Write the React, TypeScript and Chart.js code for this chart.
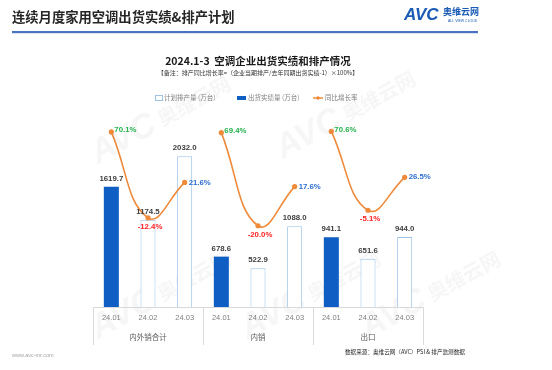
import React, { useEffect, useRef } from 'react';
import { Chart, registerables } from 'chart.js';

Chart.register(...registerables);

const categories = ['24.01', '24.02', '24.03', '24.01', '24.02', '24.03', '24.01', '24.02', '24.03'];
const groupLabels = ['内外销合计', '内销', '出口'];
const actualShipments = [1619.7, null, null, 678.6, null, null, 941.1, null, null];
const plannedProduction = [null, 1174.5, 2032.0, null, 522.9, 1088.0, null, 651.6, 944.0];
const growthTotal = [70.1, -12.4, 21.6, null, null, null, null, null, null];
const growthDomestic = [null, null, null, 69.4, -20.0, 17.6, null, null, null];
const growthExport = [null, null, null, null, null, null, 70.6, -5.1, 26.5];
const legendLabels = ['计划排产量 (万台)', '出货实绩量 (万台)', '同比增长率'];

const CJK = '"Noto Sans CJK SC", "Noto Sans", sans-serif';
const NUM = '"Liberation Sans", Arial, sans-serif';
const BLUE = '#0F5EC4';
const OUTLINE = '#9DC3E6';
const ORANGE = '#EE8A3A';

const decorPlugin = {
  id: 'decor',
  beforeDraw(chart: any) {
    const ctx = chart.ctx;
    const x = chart.scales.x;
    const area = chart.chartArea;
    ctx.save();
    ctx.fillStyle = '#ffffff';
    ctx.fillRect(0, 0, chart.width, chart.height);

    // watermarks
    const marks = [[150, 125], [335, 120], [150, 300], [300, 300], [420, 300]];
    marks.forEach(([mx, my]) => {
      ctx.save();
      ctx.translate(mx, my);
      ctx.rotate(-0.5);
      ctx.globalAlpha = 0.05;
      ctx.fillStyle = '#555';
      ctx.font = 'italic bold 34px ' + NUM;
      ctx.textAlign = 'center';
      ctx.textBaseline = 'middle';
      ctx.fillText('AVC', -30, 0);
      ctx.font = 'bold 20px ' + CJK;
      ctx.fillText('奥维云网', 50, 0);
      ctx.restore();
    });

    // header title
    ctx.fillStyle = '#262626';
    ctx.font = 'bold 13.3px ' + CJK;
    ctx.textBaseline = 'middle';
    ctx.textAlign = 'left';
    ctx.fillText('连续月度家用空调出货实绩&排产计划', 12, 17);

    // header underline
    ctx.fillStyle = '#4A73C2';
    ctx.fillRect(12, 31, 466, 2);
    ctx.fillStyle = 'rgba(74,115,194,0.2)';
    ctx.fillRect(12, 33, 466, 1);

    // logo
    ctx.fillStyle = '#1A5BB5';
    ctx.font = 'italic bold 17px ' + NUM;
    ctx.fillText('AVC', 404, 15);
    ctx.font = 'bold 9px ' + CJK;
    ctx.fillText('奥维云网', 443, 12);
    ctx.font = '3.5px ' + NUM;
    ctx.fillText('ALL VIEW CLOUD', 448, 21);

    // chart title
    ctx.textAlign = 'center';
    ctx.fillStyle = '#1a1a1a';
    ctx.font = 'bold 10.5px ' + CJK;
    ctx.fillText('2024.1-3  空调企业出货实绩和排产情况', 258, 61);
    ctx.font = '6px ' + CJK;
    ctx.fillStyle = '#333';
    ctx.fillText('【备注：排产同比增长率=（企业当期排产/去年同期出货实绩-1）×100%】', 258, 73);

    // legend
    const ly = 98;
    ctx.textAlign = 'left';
    ctx.font = '6.5px ' + CJK;
    ctx.strokeStyle = OUTLINE;
    ctx.lineWidth = 1;
    ctx.fillStyle = '#fff';
    ctx.fillRect(155.5, ly - 2.5, 7, 5);
    ctx.strokeRect(155.5, ly - 2.5, 7, 5);
    ctx.fillStyle = '#808080';
    ctx.fillText(legendLabels[0], 164, ly);
    ctx.fillStyle = BLUE;
    ctx.fillRect(237, ly - 2, 9, 4);
    ctx.fillStyle = '#808080';
    ctx.fillText(legendLabels[1], 248, ly);
    ctx.strokeStyle = ORANGE;
    ctx.lineWidth = 1.5;
    ctx.beginPath();
    ctx.moveTo(313, ly);
    ctx.lineTo(323, ly);
    ctx.stroke();
    ctx.fillStyle = ORANGE;
    ctx.beginPath();
    ctx.arc(318, ly, 1.8, 0, Math.PI * 2);
    ctx.fill();
    ctx.fillStyle = '#808080';
    ctx.fillText(legendLabels[2], 325, ly);

    // axis lines & separators
    ctx.strokeStyle = '#D9D9D9';
    ctx.lineWidth = 1;
    ctx.beginPath();
    ctx.moveTo(area.left, Math.round(area.bottom) + 0.5);
    ctx.lineTo(area.right, Math.round(area.bottom) + 0.5);
    const step = (x.getPixelForValue(1) - x.getPixelForValue(0));
    for (let g = 0; g <= groupLabels.length; g++) {
      const px = Math.round(x.getPixelForValue(g * 3) - step / 2) + 0.5;
      ctx.moveTo(px, area.bottom);
      ctx.lineTo(px, area.bottom + 38);
    }
    ctx.stroke();

    // tick labels
    ctx.textAlign = 'center';
    ctx.fillStyle = '#7F7F7F';
    ctx.font = '7.5px ' + NUM;
    categories.forEach((c, i) => {
      ctx.fillText(c, x.getPixelForValue(i), area.bottom + 11);
    });
    ctx.font = '7.5px ' + CJK;
    ctx.fillStyle = '#595959';
    groupLabels.forEach((g, i) => {
      ctx.fillText(g, x.getPixelForValue(i * 3 + 1), area.bottom + 30);
    });

    // footer
    ctx.textAlign = 'left';
    ctx.fillStyle = '#A6A6A6';
    ctx.font = '5.5px ' + NUM;
    ctx.fillText('www.avc-mr.com', 12, 355);
    ctx.fillStyle = '#262626';
    ctx.font = '5.6px ' + CJK;
    ctx.fillText('数据来源：奥维云网（AVC）PSI & 排产监测数据', 345, 352);
    ctx.restore();
  },
  afterDatasetsDraw(chart: any) {
    const ctx = chart.ctx;
    ctx.save();
    ctx.textBaseline = 'middle';
    // bar labels
    ctx.font = 'bold 7.8px ' + NUM;
    ctx.fillStyle = '#404040';
    ctx.textAlign = 'center';
    [0, 1].forEach((di) => {
      const ds = chart.data.datasets[di];
      const meta = chart.getDatasetMeta(di);
      meta.data.forEach((el: any, i: number) => {
        const v = ds.data[i];
        if (v == null) return;
        ctx.fillText(Number(v).toFixed(1), el.x, el.y - 8);
      });
    });
    // line labels
    ctx.font = 'bold 7.8px ' + NUM;
    [2, 3, 4].forEach((di) => {
      const ds = chart.data.datasets[di];
      const meta = chart.getDatasetMeta(di);
      meta.data.forEach((el: any, i: number) => {
        const v = ds.data[i];
        if (v == null) return;
        const pos = i % 3;
        const txt = Number(v).toFixed(1) + '%';
        if (pos === 0) {
          ctx.fillStyle = '#22B04C';
          ctx.textAlign = 'left';
          ctx.fillText(txt, el.x + 3, el.y - 2);
        } else if (pos === 1) {
          ctx.fillStyle = '#FF2020';
          ctx.textAlign = 'center';
          ctx.fillText(txt, el.x + 2, el.y + 9);
        } else {
          ctx.fillStyle = '#2F6FD0';
          ctx.textAlign = 'left';
          ctx.fillText(txt, el.x + 4, el.y);
        }
      });
    });
    ctx.restore();
  },
};

export default function App() {
  const ref = useRef<HTMLCanvasElement>(null);
  useEffect(() => {
    if (!ref.current) return;
    const lineDs = (data: (number | null)[]) => ({
      type: 'line' as const,
      data,
      yAxisID: 'y2',
      borderColor: ORANGE,
      backgroundColor: ORANGE,
      borderWidth: 1.6,
      pointRadius: 2.6,
      pointBackgroundColor: ORANGE,
      pointBorderWidth: 0,
      tension: 0.45,
      spanGaps: false,
      order: 1,
    });
    const chart = new Chart(ref.current, {
      type: 'bar',
      data: {
        labels: categories,
        datasets: [
          {
            type: 'bar',
            data: actualShipments as any,
            backgroundColor: BLUE,
            borderWidth: 0,
            barPercentage: 0.41,
            categoryPercentage: 1,
            yAxisID: 'y',
            order: 2,
          },
          {
            type: 'bar',
            data: plannedProduction as any,
            backgroundColor: '#ffffff',
            borderColor: OUTLINE,
            borderWidth: 1,
            barPercentage: 0.41,
            categoryPercentage: 1,
            yAxisID: 'y',
            order: 2,
          },
          lineDs(growthTotal) as any,
          lineDs(growthDomestic) as any,
          lineDs(growthExport) as any,
        ],
      },
      options: {
        responsive: false,
        animation: false,
        layout: { padding: { left: 93, right: 129, top: 114, bottom: 63 } },
        plugins: { legend: { display: false }, tooltip: { enabled: false }, title: { display: false } },
        scales: {
          x: { display: false, stacked: true, offset: true, grid: { display: false } },
          y: { display: false, min: 0, max: 2600, stacked: false },
          y2: { display: false, min: -98, max: 87.3 },
        },
      },
      plugins: [decorPlugin],
    });
    return () => chart.destroy();
  }, []);
  return (
    <div style={{ position: 'fixed', left: 0, top: 0, width: 552, height: 370, background: '#fff' }}>
      <canvas ref={ref} width={552} height={370} style={{ width: 552, height: 370, display: 'block' }} />
    </div>
  );
}
